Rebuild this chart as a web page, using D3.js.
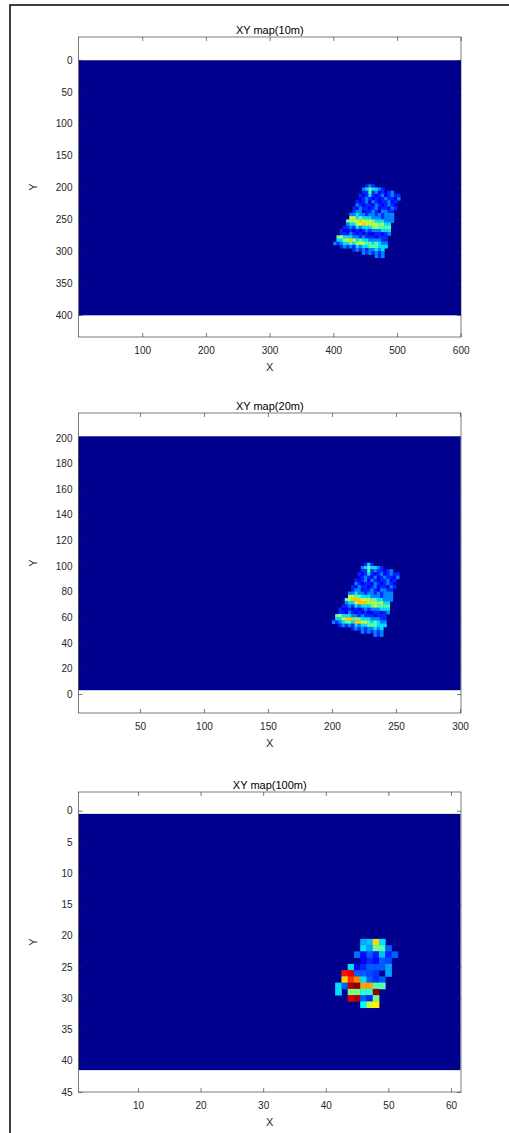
<!DOCTYPE html>
<html>
<head>
<meta charset="utf-8">
<script src="https://cdn.jsdelivr.net/npm/d3@7"></script>
<style>
  body { margin: 0; background: #fff; }
  svg { display: block; font-family: "Liberation Sans", Arial, Helvetica, sans-serif; }
</style>
</head>
<body>
<svg id="chart"></svg>
<script>
const width = 509, height = 1133;

// --- data ---
const titles = ["XY map(10m)", "XY map(20m)", "XY map(100m)"];

const xTicks10 = [100, 200, 300, 400, 500, 600];
const yTicks10 = [0, 50, 100, 150, 200, 250, 300, 350, 400];
const xTicks20 = [50, 100, 150, 200, 250, 300];
const yTicks20 = [0, 20, 40, 60, 80, 100, 120, 140, 160, 180, 200];
const xTicks100 = [10, 20, 30, 40, 50, 60];
const yTicks100 = [0, 5, 10, 15, 20, 25, 30, 35, 40, 45];

// axis limits (x, y)
const xLim10 = [0, 600.5], yLim10 = [-36, 434.5];
const xLim20 = [2, 300.8], yLim20 = [-14.8, 219.5];
const xLim100 = [0.5, 61.6], yLim100 = [-3, 45];

// extent of the gridded map (background value 0)
const extent10 = [[0.5, 600.5], [0.5, 400.5]];
const extent20 = [[0.5, 300.5], [3, 201.3]];
const extent100 = [[0.5, 61.5], [0.5, 41.5]];

// digit -> map value
const levels = [0, 0.1, 0.15, 0.24, 0.33, 0.45, 0.55, 0.66, 0.78, 0.9];

// 10m patch, 5 units per cell, first cell at x=400, y=195 (rows go to larger y)
const patch10m = [
  "..........232........",
  ".........3454432.....",
  ".........2252312123..",
  "........2124212312322",
  "........1232121232213",
  ".......2123132122312.",
  ".......3212213212321.",
  "......21322123122132.",
  "......2331223213322..",
  ".....33433233232333..",
  ".....66454443332333..",
  "....566676665444333..",
  "....34466766665644...",
  "...223243444565555...",
  "..2112121232333444...",
  "..2213212121122123...",
  ".5644433232221222....",
  ".4466764544333322....",
  "32344546665545433....",
  "..232324344555444....",
  "......2323233434.....",
  ".........3232323.....",
  ".............323....."
];
const patch10mOrigin = [400, 195], patch10mStep = 5;

// 20m patch, 2.5 units per cell, first cell at x=200, y=102.5 (rows go to smaller y)
const patch20m = [
  "..........242........",
  ".........3454432.....",
  ".........2252322123..",
  "........2124212312322",
  "........1232131232213",
  ".......2123132122312.",
  ".......3212213212321.",
  "......21322123122132.",
  "......2331223213322..",
  ".....33433233232333..",
  ".....66554443332333..",
  "....567776665544333..",
  "....34467776665644...",
  "...223243444565555...",
  "..2112121232333444...",
  "..2213212121122123...",
  ".5644433232221222....",
  ".4467775544433322....",
  "32345547766545433....",
  "..232324344555444....",
  "......2323233434.....",
  ".........3232323.....",
  ".............323....."
];
const patch20mOrigin = [200, 102.5], patch20mStep = 2.5;

// 100m map cells: [x, y, value]
const cells100m = [
  [46, 21, 0.28], [47, 21, 0.30], [48, 21, 0.65], [49, 21, 0.33],
  [46, 22, 0.33], [47, 22, 0.27], [48, 22, 0.47], [49, 22, 0.45], [50, 22, 0.2],
  [45, 23, 0.22], [46, 23, 0.12], [47, 23, 0.2], [48, 23, 0.14], [49, 23, 0.3], [50, 23, 0.15], [51, 23, 0.2],
  [46, 24, 0.1], [47, 24, 0.15], [48, 24, 0.12], [49, 24, 0.2], [50, 24, 0.18],
  [44, 25, 0.33], [45, 25, 0.1], [46, 25, 0.15], [47, 25, 0.2], [48, 25, 0.2], [49, 25, 0.2], [50, 25, 0.27],
  [43, 26, 0.84], [44, 26, 0.88], [45, 26, 0.2], [46, 26, 0.2], [47, 26, 0.18], [48, 26, 0.16], [50, 26, 0.27],
  [43, 27, 0.65], [44, 27, 0.81], [45, 27, 0.73], [46, 27, 0.33], [47, 27, 0.2], [48, 27, 0.16], [49, 27, 0.2],
  [42, 28, 0.33], [43, 28, 0.2], [44, 28, 0.95], [45, 28, 1.0], [46, 28, 0.7], [47, 28, 0.7], [48, 28, 0.44], [49, 28, 0.44],
  [42, 29, 0.33], [44, 29, 0.48], [45, 29, 0.48], [46, 29, 0.4], [47, 29, 0.4], [48, 29, 0.97],
  [44, 30, 0.9], [45, 30, 0.95], [46, 30, 0.2], [47, 30, 0.15], [48, 30, 0.48],
  [46, 31, 0.36], [47, 31, 0.55], [48, 31, 0.62]
];

// jet colormap
const jet = d3.scaleLinear()
  .domain([0, 0.11, 0.36, 0.61, 0.86, 1])
  .range(["#00008f", "#0000ff", "#00ffff", "#ffff00", "#ff0000", "#800000"])
  .clamp(true);

// turn a digit grid into cells
function gridCells(rows, origin, step, ySign) {
  const out = [];
  rows.forEach((row, j) => {
    [...row].forEach((ch, i) => {
      if (ch === ".") return;
      out.push({
        x0: origin[0] + step * i, x1: origin[0] + step * (i + 1),
        y0: origin[1] + ySign * step * j, y1: origin[1] + ySign * step * (j + 1),
        v: levels[+ch]
      });
    });
  });
  return out;
}

const panels = [
  { title: titles[0], xLim: xLim10, yLim: yLim10, reversed: true, xTicks: xTicks10, yTicks: yTicks10,
    extent: extent10, cells: gridCells(patch10m, patch10mOrigin, patch10mStep, 1) },
  { title: titles[1], xLim: xLim20, yLim: yLim20, reversed: false, xTicks: xTicks20, yTicks: yTicks20,
    extent: extent20, cells: gridCells(patch20m, patch20mOrigin, patch20mStep, -1) },
  { title: titles[2], xLim: xLim100, yLim: yLim100, reversed: true, xTicks: xTicks100, yTicks: yTicks100,
    extent: extent100, cells: cells100m.map(d => ({ x0: d[0] - 0.5, x1: d[0] + 0.5, y0: d[1] - 0.5, y1: d[1] + 0.5, v: d[2] })) }
];

// layout
const left = 78.5, right = 461, boxH = 300;
const tops = [37, 413, 792];
const axisColor = "#262626";

const svg = d3.select("#chart")
  .attr("width", width)
  .attr("height", height);

svg.append("rect").attr("width", width).attr("height", height).attr("fill", "#fff");

// screenshot frame
svg.append("path")
  .attr("d", `M10,${height} V5 H${width}`)
  .attr("fill", "none")
  .attr("stroke", "#000")
  .attr("stroke-width", 1.5);

panels.forEach((p, k) => {
  const top = tops[k], bottom = top + boxH;
  const x = d3.scaleLinear().domain(p.xLim).range([left, right]);
  const y = d3.scaleLinear().domain(p.yLim).range(p.reversed ? [top, bottom] : [bottom, top]);

  const g = svg.append("g");

  svg.append("clipPath").attr("id", "clip" + k)
    .append("rect")
    .attr("x", left).attr("y", top)
    .attr("width", right - left).attr("height", boxH);

  const img = g.append("g").attr("clip-path", `url(#clip${k})`);

  // map background (value 0)
  const ex = p.extent;
  img.append("rect")
    .attr("x", x(ex[0][0]))
    .attr("y", Math.min(y(ex[1][0]), y(ex[1][1])))
    .attr("width", x(ex[0][1]) - x(ex[0][0]))
    .attr("height", Math.abs(y(ex[1][1]) - y(ex[1][0])))
    .attr("fill", jet(0));

  // non-zero cells
  img.selectAll("rect.cell")
    .data(p.cells)
    .join("rect")
    .attr("class", "cell")
    .attr("x", d => Math.min(x(d.x0), x(d.x1)))
    .attr("y", d => Math.min(y(d.y0), y(d.y1)))
    .attr("width", d => Math.abs(x(d.x1) - x(d.x0)) + 0.4)
    .attr("height", d => Math.abs(y(d.y1) - y(d.y0)) + 0.4)
    .attr("fill", d => jet(d.v));

  // box
  g.append("rect")
    .attr("x", left).attr("y", top)
    .attr("width", right - left).attr("height", boxH)
    .attr("fill", "none")
    .attr("stroke", axisColor)
    .attr("stroke-width", 0.6);

  // axes, ticks pointing inward on all four sides
  const bottomAxis = g.append("g").attr("transform", `translate(0,${bottom})`)
    .call(d3.axisBottom(x).tickValues(p.xTicks).tickSizeInner(-4).tickSizeOuter(0).tickPadding(10));
  const topAxis = g.append("g").attr("transform", `translate(0,${top})`)
    .call(d3.axisTop(x).tickValues(p.xTicks).tickSizeInner(-4).tickSizeOuter(0).tickFormat(() => ""));
  const leftAxis = g.append("g").attr("transform", `translate(${left},0)`)
    .call(d3.axisLeft(y).tickValues(p.yTicks).tickSizeInner(-4).tickSizeOuter(0).tickPadding(6));
  const rightAxis = g.append("g").attr("transform", `translate(${right},0)`)
    .call(d3.axisRight(y).tickValues(p.yTicks).tickSizeInner(-4).tickSizeOuter(0).tickFormat(() => ""));

  [bottomAxis, topAxis, leftAxis, rightAxis].forEach(a => {
    a.select(".domain").remove();
    a.selectAll(".tick line").attr("stroke", axisColor).attr("stroke-width", 0.6);
    a.selectAll(".tick text")
      .attr("fill", axisColor)
      .style("font-size", "10px")
      .style("font-family", '"Liberation Sans", Arial, Helvetica, sans-serif');
  });

  // title
  g.append("text")
    .attr("x", (left + right) / 2)
    .attr("y", top - 3)
    .attr("text-anchor", "middle")
    .attr("fill", "#000")
    .style("font-size", "11px")
    .text(p.title);

  // axis labels
  g.append("text")
    .attr("x", (left + right) / 2)
    .attr("y", bottom + 34)
    .attr("text-anchor", "middle")
    .attr("fill", axisColor)
    .style("font-size", "11px")
    .text("X");

  g.append("text")
    .attr("transform", `translate(37,${(top + bottom) / 2}) rotate(-90)`)
    .attr("text-anchor", "middle")
    .attr("fill", axisColor)
    .style("font-size", "11px")
    .text("Y");
});
</script>
</body>
</html>
